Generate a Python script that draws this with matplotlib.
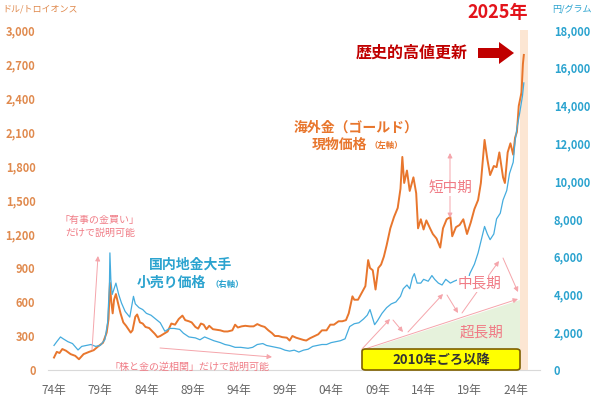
import matplotlib
matplotlib.use("Agg")
import matplotlib.pyplot as plt
from matplotlib.patches import Polygon, FancyArrowPatch, FancyBboxPatch

plt.rcParams['font.family'] = ['Noto Sans CJK JP', 'DejaVu Sans']

# -----------------------------
# Data
# -----------------------------
# overseas gold spot price, USD / troy oz (left axis)
gold_year = [
    1974.0, 1974.3, 1974.6, 1974.9, 1975.3, 1975.8, 1976.3, 1976.7, 1977.2, 1977.8,
    1978.3, 1978.8, 1979.3, 1979.7, 1979.9, 1980.05, 1980.2, 1980.35, 1980.5, 1980.7,
    1980.9, 1981.2, 1981.5, 1981.8, 1982.3, 1982.5, 1982.8, 1983.0, 1983.3, 1983.6,
    1983.9, 1984.3, 1984.6, 1984.9, 1985.2, 1985.5, 1985.9, 1986.3, 1986.7, 1987.1,
    1987.5, 1987.9, 1988.2, 1988.6, 1988.9, 1989.3, 1989.6, 1989.9, 1990.2, 1990.5,
    1990.8, 1991.2, 1991.6, 1992.0, 1992.4, 1992.8, 1993.3, 1993.6, 1993.9, 1994.3,
    1994.7, 1995.2, 1995.6, 1996.0, 1996.4, 1996.8, 1997.2, 1997.6, 1997.9, 1998.3,
    1998.7, 1999.2, 1999.5, 1999.8, 2000.2, 2000.6, 2001.0, 2001.3, 2001.7, 2002.2,
    2002.6, 2003.0, 2003.5, 2003.9, 2004.3, 2004.8, 2005.2, 2005.6, 2005.9, 2006.3,
    2006.5, 2006.9, 2007.3, 2007.7, 2008.0, 2008.2, 2008.5, 2008.8, 2009.1, 2009.4,
    2009.7, 2010.0, 2010.4, 2010.8, 2011.2, 2011.5, 2011.7, 2011.9, 2012.2, 2012.5,
    2012.9, 2013.2, 2013.4, 2013.7, 2014.0, 2014.3, 2014.7, 2015.0, 2015.4, 2015.8,
    2016.1, 2016.5, 2016.9, 2017.1, 2017.5, 2017.9, 2018.3, 2018.7, 2019.1, 2019.5,
    2019.9, 2020.2, 2020.6, 2020.9, 2021.2, 2021.6, 2021.9, 2022.2, 2022.6, 2022.8,
    2023.1, 2023.4, 2023.7, 2023.9, 2024.1, 2024.3, 2024.6, 2024.75, 2024.85,
]
gold_usd = [
    110, 160, 150, 185, 170, 140, 125, 95, 140, 160,
    175, 210, 240, 330, 450, 770, 600, 500, 620, 670,
    600, 500, 420, 390, 330, 350, 470, 490, 420, 410,
    380, 370, 345, 320, 290, 300, 320, 340, 410, 400,
    450, 480, 440, 430, 420, 380, 365, 410, 400, 360,
    390, 360, 355, 350, 340, 340, 350, 400, 375, 385,
    390, 385, 385, 405, 390, 380, 350, 325, 300, 300,
    290, 285, 260, 300, 285, 275, 265, 260, 280, 300,
    315, 350, 350, 400, 400, 430, 430, 440, 500, 650,
    620, 620, 680, 740, 970, 900, 880, 710, 900, 930,
    1000, 1100, 1250, 1350, 1430, 1600, 1880, 1650, 1760, 1580,
    1700, 1560, 1250, 1330, 1240, 1320, 1250, 1200, 1160, 1080,
    1250, 1330, 1350, 1180, 1260, 1280, 1330, 1200, 1300, 1420,
    1500, 1650, 2030, 1860, 1720, 1800, 1790, 1920, 1700, 1650,
    1920, 2000, 1900, 2050, 2100, 2330, 2450, 2700, 2780,
]

# domestic retail gold price (major dealer), JPY / gram (right axis)
jp_year = [
    1974.0, 1974.3, 1974.7, 1975.0, 1975.5, 1976.0, 1976.6, 1977.0, 1977.5, 1978.0,
    1978.5, 1979.0, 1979.5, 1979.8, 1980.0, 1980.05, 1980.15, 1980.3, 1980.5, 1980.7,
    1981.0, 1981.3, 1981.7, 1982.2, 1982.6, 1982.8, 1983.2, 1983.6, 1984.0, 1984.5,
    1985.0, 1985.5, 1986.0, 1986.5, 1987.0, 1987.6, 1988.0, 1988.6, 1989.3, 1989.8,
    1990.3, 1990.8, 1991.3, 1992.0, 1992.5, 1993.0, 1993.6, 1994.2, 1995.0, 1995.5,
    1996.0, 1996.6, 1997.0, 1997.5, 1998.0, 1998.5, 1999.0, 1999.5, 2000.0, 2000.5,
    2001.0, 2001.5, 2002.0, 2002.5, 2003.0, 2003.5, 2004.0, 2004.5, 2005.0, 2005.5,
    2006.0, 2006.5, 2007.0, 2007.5, 2007.9, 2008.2, 2008.7, 2009.0, 2009.5, 2010.0,
    2010.5, 2011.0, 2011.5, 2011.8, 2012.2, 2012.5, 2012.8, 2013.0, 2013.3, 2013.7,
    2014.0, 2014.5, 2014.9, 2015.2, 2015.6, 2016.0, 2016.4, 2016.9, 2017.3, 2017.8,
    2018.3, 2018.8, 2019.0, 2019.5, 2019.9, 2020.3, 2020.6, 2020.9, 2021.2, 2021.6,
    2021.9, 2022.3, 2022.6, 2023.0, 2023.3, 2023.7, 2023.9, 2024.1, 2024.4, 2024.7,
    2024.85,
]
jp_yen = [
    1300, 1500, 1750, 1650, 1500, 1400, 1060, 1250, 1300, 1350,
    1250, 1300, 1600, 2500, 4500, 6200, 4800, 4000, 4300, 4600,
    4000, 3550, 3100, 2800, 3900, 3500, 3300, 3200, 3000, 2900,
    2700, 2500, 2050, 2200, 2200, 2150, 1950, 1750, 1700, 1600,
    1750, 1650, 1550, 1450, 1350, 1300, 1200, 1200, 1150, 1200,
    1350, 1400, 1300, 1250, 1200, 1150, 1050, 1000, 1050, 950,
    1050, 1100, 1250, 1300, 1350, 1350, 1450, 1500, 1550, 1650,
    2300, 2450, 2500, 2700, 2900, 3200, 2400, 2600, 3000, 3300,
    3500, 3600, 3900, 4300, 4500, 4300, 4900, 5100, 4600, 4600,
    4800, 4700, 5000, 4800, 4600, 4500, 4800, 4600, 4700, 4800,
    4900, 4700, 5100, 5600, 6200, 7000, 7600, 7200, 6900, 7200,
    8000, 8300, 9000, 9500, 10400, 11000, 12100, 12800, 13600, 14500,
    15200,
]

left_ticks = [0, 300, 600, 900, 1200, 1500, 1800, 2100, 2400, 2700, 3000]
right_ticks = [0, 2000, 4000, 6000, 8000, 10000, 12000, 14000, 16000, 18000]
x_ticks = [1974, 1979, 1984, 1989, 1994, 1999, 2004, 2009, 2014, 2019, 2024]
x_labels = ["74年", "79年", "84年", "89年", "94年", "99年", "04年", "09年", "14年", "19年", "24年"]

ORANGE = "#E8762D"
ORANGE_TXT = "#E08A4E"
BLUE = "#45ACDE"
BLUE_TXT = "#2BA3CF"
PINK = "#F07C86"
PINK_LINE = "#F5A5AB"
W, H = 600, 398


def fp(x, y):
    """pixel position (from top-left) -> figure fraction"""
    return x / W, 1 - y / H


# -----------------------------
# Figure
# -----------------------------
fig = plt.figure(figsize=(6, 3.98), dpi=100)
ax = fig.add_axes([48 / W, 28 / H, 492 / W, 340 / H])
ax2 = ax.twinx()

ax.set_xlim(1973.35, 2026.6)
ax.set_ylim(0, 3000)
ax2.set_ylim(0, 18000)

# 2025 band
ax.axvspan(2024.45, 2025.3, color="#FCE6D3", zorder=0, lw=0)

# green "super long-term" triangle
tri = Polygon([fp(365, 350), fp(520, 300), fp(520, 350)], closed=True,
              facecolor="#E6F2DC", edgecolor="none", transform=fig.transFigure, zorder=0)
ax.add_patch(tri)

ax.plot(gold_year, gold_usd, color=ORANGE, lw=1.4, zorder=3)
ax2.plot(jp_year, jp_yen, color=BLUE, lw=0.9, zorder=3)

for a in (ax, ax2):
    for s in a.spines.values():
        s.set_visible(False)
ax.spines["bottom"].set_visible(True)
ax.spines["bottom"].set_color("#D9D9D9")

ax.set_xticks(x_ticks)
ax.set_xticklabels(x_labels)
ax.tick_params(axis="x", length=0, pad=10, labelsize=8.5, labelcolor="#666666")
ax.set_yticks(left_ticks)
ax.set_yticklabels([f"{v:,}" for v in left_ticks], fontweight="bold")
ax.tick_params(axis="y", length=0, pad=9, labelsize=8, labelcolor=ORANGE_TXT)
ax2.set_yticks(right_ticks)
ax2.set_yticklabels([f"{v:,}" for v in right_ticks], fontweight="bold")
ax2.tick_params(axis="y", length=0, pad=10, labelsize=8, labelcolor=BLUE_TXT)

# axis unit labels
fig.text(*fp(2, 9), "ドル/トロイオンス", color=ORANGE_TXT, fontsize=6.5, va="center", ha="left")
fig.text(*fp(552, 10), "円/グラム", color=BLUE_TXT, fontsize=6.5, va="center", ha="left")

# headline
fig.text(*fp(498, 13), "2025年", color="#E3141B", fontsize=13, fontweight="bold", ha="center", va="center")
fig.text(*fp(412, 53), "歴史的高値更新", color="#C00000", fontsize=11.5, fontweight="bold",
         ha="center", va="center")
arrow_pts = [fp(478, 48), fp(499, 48), fp(499, 42), fp(514, 53),
             fp(499, 64), fp(499, 58), fp(478, 58)]
fig.add_artist(Polygon(arrow_pts, closed=True, facecolor="#C00000", edgecolor="none",
                       transform=fig.transFigure))

# series labels
fig.text(*fp(356, 128), "海外金（ゴールド）", color=ORANGE, fontsize=10, fontweight="bold",
         ha="center", va="center")
fig.text(*fp(339, 145), "現物価格", color=ORANGE, fontsize=10, fontweight="bold",
         ha="center", va="center")
fig.text(*fp(386, 146), "（左軸）", color=ORANGE, fontsize=6, fontweight="bold",
         ha="center", va="center")

fig.text(*fp(191, 265), "国内地金大手", color=BLUE_TXT, fontsize=10, fontweight="bold",
         ha="center", va="center")
fig.text(*fp(171, 283), "小売り価格", color=BLUE_TXT, fontsize=10, fontweight="bold",
         ha="center", va="center")
fig.text(*fp(227, 285), "（右軸）", color=BLUE_TXT, fontsize=6, fontweight="bold",
         ha="center", va="center")


def pink_arrow(p0, p1, style="-|>"):
    fig.add_artist(FancyArrowPatch(fp(*p0), fp(*p1), transform=fig.transFigure,
                                   arrowstyle=style, mutation_scale=7, color=PINK_LINE,
                                   lw=0.7, shrinkA=0, shrinkB=0))


# explanatory notes
fig.text(*fp(100, 220), "「有事の金買い」", color=PINK, fontsize=7.2, ha="center", va="center")
fig.text(*fp(100, 233), "だけで説明可能", color=PINK, fontsize=7.2, ha="center", va="center")
pink_arrow((92, 350), (98, 256))

fig.text(*fp(189, 367), "「株と金の逆相関」だけで説明可能", color=PINK, fontsize=7.2,
         ha="center", va="center")
pink_arrow((160, 348), (272, 357))

# short / medium term
pink_arrow((450, 153), (450, 218), style="<|-|>")
fig.text(*fp(450, 188), "短中期", color=PINK, fontsize=10.5, ha="center", va="center",
         bbox=dict(facecolor="white", edgecolor="none", pad=1))

# medium / long term zigzag
pink_arrow((362, 349), (390, 319))
pink_arrow((393, 320), (403, 332))
pink_arrow((408, 332), (443, 294))
pink_arrow((447, 295), (458, 313))
pink_arrow((462, 313), (499, 261))
pink_arrow((503, 258), (518, 292))
pink_arrow((362, 350), (518, 299))
fig.text(*fp(480, 284), "中長期", color=PINK, fontsize=10.5, ha="center", va="center",
         bbox=dict(facecolor="white", edgecolor="none", pad=1))
fig.text(*fp(482, 333), "超長期", color=PINK, fontsize=10.5, ha="center", va="center")

# "since around 2010" box
fig.add_artist(FancyBboxPatch(fp(362, 370), 158 / W, 21 / H,
                              boxstyle="round,pad=0,rounding_size=0.006",
                              facecolor="#FFFF00", edgecolor="#7F6000", lw=1.2,
                              transform=fig.transFigure))
fig.text(*fp(441, 360), "2010年ごろ以降", color="#333333", fontsize=9.5, fontweight="bold",
         ha="center", va="center")

fig.savefig("out.png", dpi=100)
